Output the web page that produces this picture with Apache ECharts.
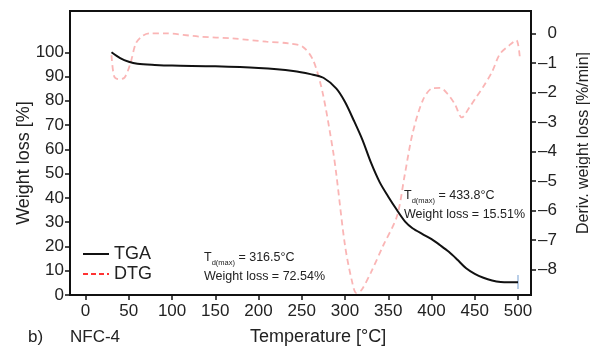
<!DOCTYPE html>
<html>
<head>
<meta charset="utf-8">
<script src="https://cdn.jsdelivr.net/npm/echarts@6.0.0/dist/echarts.min.js"></script>
<style>
  html, body { margin: 0; padding: 0; background: #fff; }
  #main { width: 590px; height: 351px; }
</style>
</head>
<body>
<div id="main"></div>
<script>
// TGA: temperature [°C] / weight [%]
var tgaTemp = [30, 40, 50, 60, 80, 100, 150, 200, 240, 260, 275, 290, 300, 310, 320, 330, 340, 350, 360, 370, 378, 390, 400, 410, 420, 430, 440, 450, 460, 470, 480, 490, 500];
var tgaWeight = [100, 97.6, 96.1, 95.3, 94.8, 94.5, 94.2, 93.5, 92.3, 91, 89.5, 85, 79.5, 72, 64, 54.5, 46.5, 40.5, 35, 30, 27.5, 25, 23, 20.5, 17.8, 14.5, 11, 8.7, 7.1, 6, 5.4, 5.3, 5.3];

// DTG: temperature [°C] / deriv. weight loss [%/min]
var dtgTemp = [30, 33, 38, 45, 52, 58, 65, 74, 93, 132, 170, 209, 236, 251, 263, 274, 286, 290, 300, 308, 313, 319, 330, 344, 360, 369, 378, 390, 401, 410, 418, 427, 435, 444, 452, 460, 470, 479, 490, 498, 502];
var dtgValue = [-0.74, -1.45, -1.55, -1.5, -1.0, -0.35, -0.1, 0, 0, -0.11, -0.17, -0.28, -0.34, -0.45, -0.9, -2.0, -3.96, -4.8, -7.2, -8.4, -8.8, -8.7, -8.1, -7.2, -6.2, -4.8, -3.4, -2.26, -1.86, -1.85, -2.03, -2.4, -2.85, -2.5, -2.15, -1.8, -1.3, -0.7, -0.4, -0.23, -0.79];

// tick labels
var xTicks = [0, 50, 100, 150, 200, 250, 300, 350, 400, 450, 500];
var leftTicks = [0, 10, 20, 30, 40, 50, 60, 70, 80, 90, 100];
var rightTicks = [-8, -7, -6, -5, -4, -3, -2, -1, 0];

function pairs(xs, ys) {
	var out = [];
	for (var i = 0; i < xs.length; i++) out.push([xs[i], ys[i]]);
	return out;
}

var myChart = echarts.init(document.getElementById('main'));
var font = 'Liberation Sans, Arial, sans-serif';
var txt = '#222';
var noSymbol = { color: 'transparent', borderColor: 'transparent', opacity: 0 };

var option = {
	animation: false,
	grid: {
		left: 70, right: 59, top: 11, bottom: 56,
		outerBoundsMode: 'none', containLabel: false,
		show: true, borderColor: '#111', borderWidth: 2
	},
	legend: {
		orient: 'vertical',
		left: 77, top: 240,
		itemWidth: 26, itemHeight: 12, itemGap: 2,
		textStyle: { fontSize: 18, color: txt, fontFamily: font, lineHeight: 18 },
		data: [
			{ name: 'TGA', itemStyle: noSymbol, lineStyle: { color: '#111', width: 2 } },
			{ name: 'DTG', itemStyle: noSymbol, lineStyle: { color: '#f33', width: 2, type: [5, 3] } }
		]
	},
	xAxis: {
		type: 'value', min: -18, max: 515,
		axisLine: { onZero: false, lineStyle: { color: '#111', width: 2 } },
		axisTick: { length: 5, customValues: xTicks, lineStyle: { color: '#111', width: 1.5 } },
		axisLabel: { customValues: xTicks, fontSize: 17, color: txt, fontFamily: font, margin: 8 },
		splitLine: { show: false }
	},
	yAxis: [{
		type: 'value', min: 0, max: 117, position: 'left',
		name: 'Weight loss [%]', nameLocation: 'middle', nameGap: 37, nameMoveOverlap: false,
		nameTextStyle: { fontSize: 18, color: txt, fontFamily: font, padding: [0, 0, 0, -20] },
		axisLine: { show: true, onZero: false, lineStyle: { color: '#111', width: 2 } },
		axisTick: { show: true, length: 5, customValues: leftTicks, lineStyle: { color: '#111', width: 1.5 } },
		axisLabel: { customValues: leftTicks, fontSize: 17, color: txt, fontFamily: font, margin: 6 },
		splitLine: { show: false }
	}, {
		type: 'value', min: -8.87, max: 0.76, position: 'right',
		name: 'Deriv. weight loss [%/min]', nameLocation: 'middle', nameGap: 45,
		nameTextStyle: { fontSize: 16, color: txt, fontFamily: font, padding: [0, 0, 0, 20] },
		axisLine: { show: true, onZero: false, lineStyle: { color: '#111', width: 2 } },
		axisTick: { show: true, length: 5, customValues: rightTicks, lineStyle: { color: '#111', width: 1.5 } },
		axisLabel: {
			customValues: rightTicks, fontSize: 17, color: txt, fontFamily: font, margin: 7,
			formatter: function (v) { return v < 0 ? '\u2013' + Math.abs(v) : '  ' + v; }
		},
		splitLine: { show: false }
	}],
	series: [{
		name: 'TGA', type: 'line', yAxisIndex: 0, symbol: 'none', smooth: 0.3, z: 3,
		itemStyle: { color: '#111' },
		lineStyle: { color: '#111', width: 2 },
		data: pairs(tgaTemp, tgaWeight)
	}, {
		name: 'DTG', type: 'line', yAxisIndex: 1, symbol: 'none', smooth: 0.3, z: 2,
		itemStyle: { color: '#f33' },
		lineStyle: { color: 'rgba(245,120,120,0.55)', width: 1.8, type: [6, 4] },
		data: pairs(dtgTemp, dtgValue)
	}],
	graphic: [{
		type: 'text', left: 204, top: 251,
		style: {
			text: '{t|T}{s|d(max)}{t| = 316.5\u00b0C}\n{t|Weight loss = 72.54%}',
			rich: {
				t: { fontSize: 12.5, fontFamily: font, fill: txt, lineHeight: 19 },
				s: { fontSize: 7.5, fontFamily: font, fill: txt, lineHeight: 19, verticalAlign: 'bottom', padding: [7, 0, 0, 0] }
			}
		}
	}, {
		type: 'text', left: 404, top: 189,
		style: {
			text: '{t|T}{s|d(max)}{t| = 433.8\u00b0C}\n{t|Weight loss = 15.51%}',
			rich: {
				t: { fontSize: 12.5, fontFamily: font, fill: txt, lineHeight: 19 },
				s: { fontSize: 7.5, fontFamily: font, fill: txt, lineHeight: 19, verticalAlign: 'bottom', padding: [7, 0, 0, 0] }
			}
		}
	}, {
		type: 'text', left: 28, top: 329,
		style: { text: 'b)', fontSize: 17, fontFamily: font, fill: txt }
	}, {
		type: 'text', left: 70, top: 329,
		style: { text: 'NFC-4', fontSize: 17, fontFamily: font, fill: txt }
	}, {
		type: 'text', left: 250, top: 328,
		style: { text: 'Temperature [\u00b0C]', fontSize: 18, fontFamily: font, fill: txt }
	}, {
		type: 'line', shape: { x1: 518, y1: 275, x2: 518, y2: 289 },
		style: { stroke: 'rgba(90,140,200,0.7)', lineWidth: 1.2 }
	}]
};
myChart.setOption(option);
</script>
</body>
</html>
